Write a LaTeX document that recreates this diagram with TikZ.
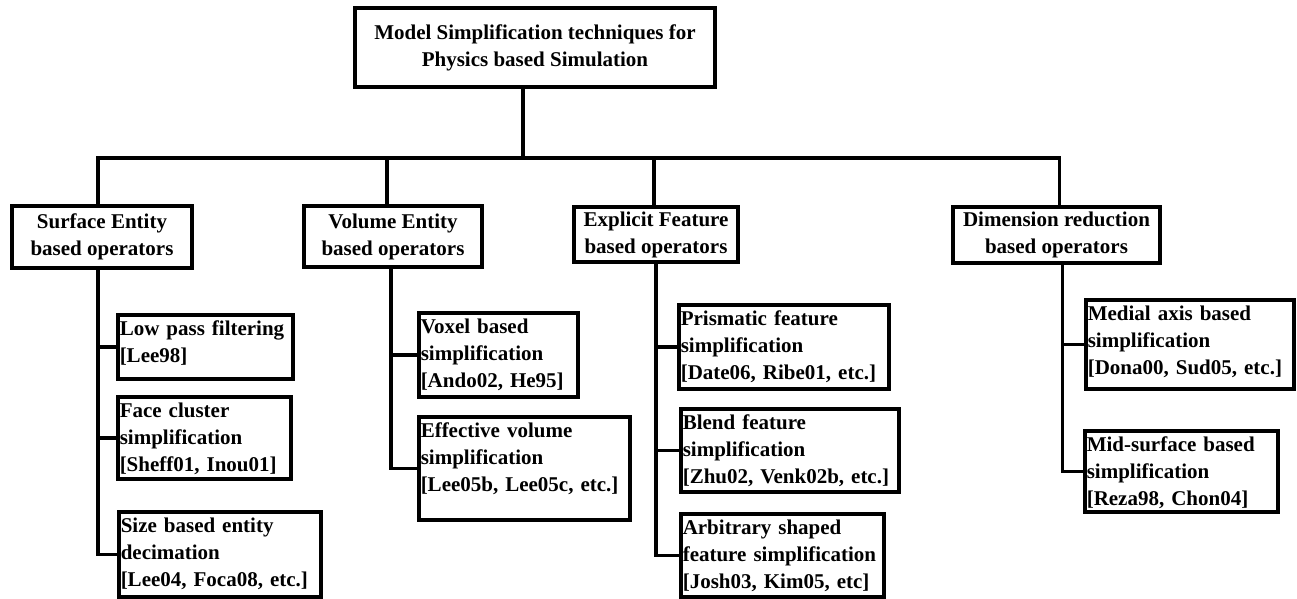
\documentclass[tikz,border=0pt]{standalone}
\usepackage{fontspec}
\setmainfont{Liberation Serif}
\begin{document}
\begin{tikzpicture}[x=1pt,y=-1pt,
  box/.style={draw, line width=3.5pt, inner xsep=2pt, inner ysep=0pt,
    font=\bfseries\fontsize{21}{27}\selectfont},
  top/.style={box, align=center, anchor=center},
  leaf/.style={box, align=left, anchor=north west, text height=21pt},
  conn/.style={line width=3.5pt}]
\useasboundingbox (0,0) rectangle (1297,598);
% top level
\node[top, minimum width=360pt, minimum height=79pt] (root) at (535,47.5)
  {Model Simplification techniques for\\Physics based Simulation};
\node[top, minimum width=180pt, minimum height=62pt] (surf) at (102,237)
  {Surface Entity\\based operators};
\node[top, minimum width=178pt, minimum height=61pt] (vol) at (393,236.5)
  {Volume Entity\\based operators};
\node[top, minimum width=164pt, minimum height=55pt] (expl) at (656,234.5)
  {Explicit Feature\\based operators};
\node[top, minimum width=207pt, minimum height=56pt] (dim) at (1056.5,235)
  {Dimension reduction\\based operators};
% leaves
\node[leaf, text width=171pt, text depth=43pt] (lowpass) at (116,313)
  {Low pass filtering\\{[}Lee98{]}};
\node[leaf, text width=169pt, text depth=61pt] (face) at (116,395)
  {Face cluster\\simplification\\{[}Sheff01, Inou01{]}};
\node[leaf, text width=198pt, text depth=64pt] (size) at (117,510)
  {Size based entity\\decimation\\{[}Lee04, Foca08, etc.{]}};
\node[leaf, text width=155pt, text depth=63pt] (voxel) at (417,311)
  {Voxel based\\simplification\\{[}Ando02, He95{]}};
\node[leaf, text width=207pt, text depth=82pt] (effvol) at (417,415)
  {Effective volume\\simplification\\{[}Lee05b, Lee05c, etc.{]}};
\node[leaf, text width=206pt, text depth=63pt] (prism) at (677,303)
  {Prismatic feature\\simplification\\{[}Date06, Ribe01, etc.{]}};
\node[leaf, text width=214pt, text depth=62pt] (blend) at (679,407)
  {Blend feature\\simplification\\{[}Zhu02, Venk02b, etc.{]}};
\node[leaf, text width=199pt, text depth=62pt] (arb) at (679,512)
  {Arbitrary shaped\\feature simplification\\{[}Josh03, Kim05, etc{]}};
\node[leaf, text width=204pt, text depth=68pt] (medial) at (1084,298)
  {Medial axis based\\simplification\\{[}Dona00, Sud05, etc.{]}};
\node[leaf, text width=189pt, text depth=60pt] (mid) at (1083,429)
  {Mid-surface based\\simplification\\{[}Reza98, Chon04{]}};
% helper coordinates
\coordinate (bus) at (535,158);
\coordinate (rootdrop) at ([xshift=-12pt]root.south);
\coordinate (surftop) at ([xshift=-4pt]surf.north);
\coordinate (voltop) at ([xshift=-6pt]vol.north);
\coordinate (expltop) at ([xshift=-2pt]expl.north);
\coordinate (dimtop) at ([xshift=3pt]dim.north);
\coordinate (surfsp) at ([xshift=-4pt]surf.south);
\coordinate (volsp) at ([xshift=-2pt]vol.south);
\coordinate (explsp) at (expl.south);
\coordinate (dimsp) at ([xshift=6pt]dim.south);
% bus
\draw[conn] (rootdrop) -- (rootdrop |- bus);
\draw[conn] (surftop) -- (surftop |- bus) -- (dimtop |- bus) -- (dimtop);
\draw[conn] (voltop) -- (voltop |- bus);
\draw[conn] (expltop) -- (expltop |- bus);
% spines
\draw[conn] (surfsp) |- (size.west);
\draw[conn] (lowpass.west) -- (lowpass.west -| surfsp);
\draw[conn] (face.west) -- (face.west -| surfsp);
\draw[conn] (volsp) |- (effvol.west);
\draw[conn] (voxel.west) -- (voxel.west -| volsp);
\draw[conn] (explsp) |- (arb.west);
\draw[conn] (prism.west) -- (prism.west -| explsp);
\draw[conn] (blend.west) -- (blend.west -| explsp);
\draw[conn] (dimsp) |- (mid.west);
\draw[conn] (medial.west) -- (medial.west -| dimsp);
\end{tikzpicture}
\end{document}
